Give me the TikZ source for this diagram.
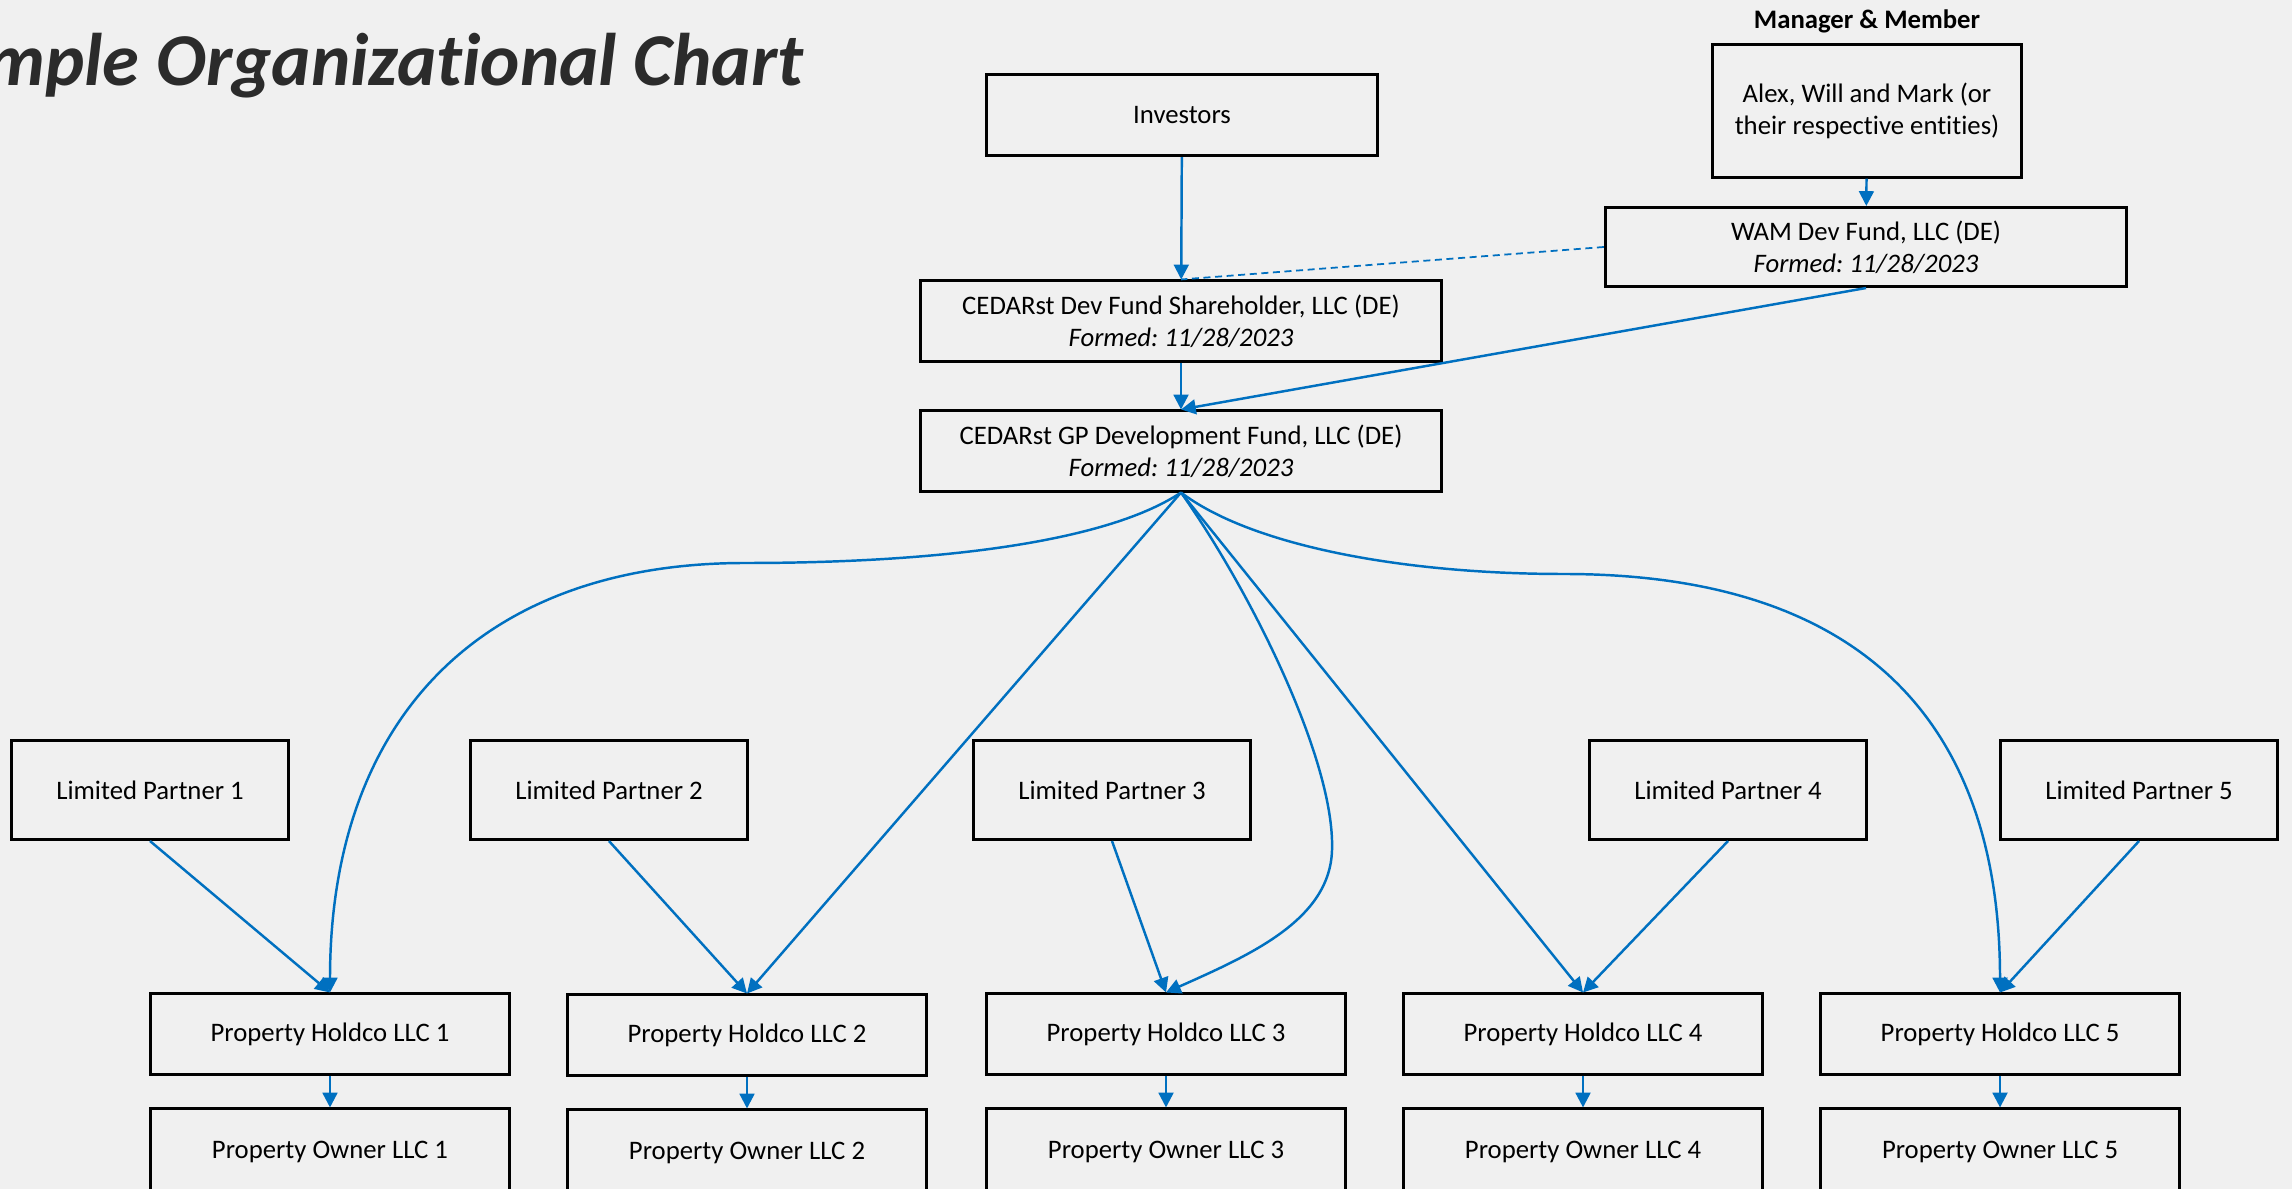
\documentclass[tikz,border=0pt]{standalone}
\usepackage{fontspec}
\setmainfont{Carlito}[Ligatures=NoCommon]
\usepackage{tikz}
\usetikzlibrary{arrows.meta}
\definecolor{bgcol}{RGB}{240,240,240}
\definecolor{linkblue}{RGB}{0,112,192}
\definecolor{titlegray}{RGB}{43,43,43}
\frenchspacing

\begin{document}
\begin{tikzpicture}[x=0.01cm, y=-0.01cm,
  box/.style={draw, line width=0.85pt, align=center, inner sep=0pt, font=\fontsize{7.6}{9.1}\selectfont},
  topbox/.style={box, minimum width=5.2cm, minimum height=0.8cm},
  lpbox/.style={box, minimum width=2.77cm, minimum height=0.99cm},
  hcbox/.style={box, minimum width=3.58cm, minimum height=0.8cm},
  owbox/.style={box, minimum width=3.58cm, minimum height=0.86cm},
  link/.style={linkblue, line width=0.7pt, -{Triangle[length=4.2pt,width=4.2pt]}},
]
    % 画布
    \useasboundingbox (0,0) rectangle (2292,1189);
    \clip (0,0) rectangle (2292,1189);
    \fill[bgcol] (0,0) rectangle (2292,1189);

    % 标题
    \node[anchor=base east, inner sep=0pt, titlegray, font=\fontsize{21.2}{24}\selectfont\bfseries\itshape] (title) at (804,86) {Sample Organizational Chart};
    \node[font=\fontsize{7.6}{9.1}\selectfont\bfseries] (mgrlabel) at (1867,21) {Manager \& Member};

    % 上层
    \node[box, minimum width=3.9cm, minimum height=0.81cm] (inv) at (1182,115) {Investors};
    \node[box, minimum width=3.09cm, minimum height=1.32cm] (alex) at (1867,111) {Alex, Will and Mark (or\\their respective entities)};
    \node[topbox, minimum width=5.21cm, minimum height=0.79cm] (wam) at (1866,247) {WAM Dev Fund, LLC (DE)\\\textit{Formed: 11/28/2023}};
    \node[topbox] (sh) at (1181,321) {CEDARst Dev Fund Shareholder, LLC (DE)\\\textit{Formed: 11/28/2023}};
    \node[topbox] (gp) at (1181,451) {CEDARst GP Development Fund, LLC (DE)\\\textit{Formed: 11/28/2023}};

    % 有限合伙人
    \node[lpbox] (lp1) at (150,790) {Limited Partner 1};
    \node[lpbox] (lp2) at (609,790) {Limited Partner 2};
    \node[lpbox] (lp3) at (1112,790) {Limited Partner 3};
    \node[lpbox] (lp4) at (1728,790) {Limited Partner 4};
    \node[lpbox] (lp5) at (2139,790) {Limited Partner 5};

    % Holdco / Owner
    \node[hcbox] (hc1) at (330,1034) {Property Holdco LLC 1};
    \node[hcbox] (hc2) at (747,1035) {Property Holdco LLC 2};
    \node[hcbox] (hc3) at (1166,1034) {Property Holdco LLC 3};
    \node[hcbox] (hc4) at (1583,1034) {Property Holdco LLC 4};
    \node[hcbox] (hc5) at (2000,1034) {Property Holdco LLC 5};
    \node[owbox] (ow1) at (330,1152) {Property Owner LLC 1};
    \node[owbox] (ow2) at (747,1153) {Property Owner LLC 2};
    \node[owbox] (ow3) at (1166,1152) {Property Owner LLC 3};
    \node[owbox] (ow4) at (1583,1152) {Property Owner LLC 4};
    \node[owbox] (ow5) at (2000,1152) {Property Owner LLC 5};

    % 上层连线
    \draw[link] (inv) -- (sh);
    \draw[link] (alex) -- (wam);
    \draw[linkblue, line width=0.5pt, dash pattern=on 2pt off 1.3pt] (wam.west) -- (sh.north);
    \draw[link] (sh) -- (gp);
    \draw[link] (wam.south) -- (gp.north);

    % GP 到各 Holdco
    \draw[link] (gp.south) .. controls (1110,540) and (950,563) .. (745,563)
                .. controls (480,563) and (330,720) .. (hc1.north);
    \draw[link] (gp.south) -- (hc2.north);
    \draw[link] (gp.south) .. controls (1250,590) and (1335,760) .. (1332,850)
                .. controls (1330,920) and (1250,955) .. (hc3.north);
    \draw[link] (gp.south) -- (hc4.north);
    \draw[link] (gp.south) .. controls (1250,545) and (1400,574) .. (1564,574)
                .. controls (1880,574) and (2000,740) .. (hc5.north);

    % LP 到 Holdco
    \draw[link] (lp1.south) -- (hc1.north);
    \draw[link] (lp2.south) -- (hc2.north);
    \draw[link] (lp3.south) -- (hc3.north);
    \draw[link] (lp4.south) -- (hc4.north);
    \draw[link] (lp5.south) -- (hc5.north);

    % Holdco 到 Owner
    \draw[link] (hc1) -- (ow1);
    \draw[link] (hc2) -- (ow2);
    \draw[link] (hc3) -- (ow3);
    \draw[link] (hc4) -- (ow4);
    \draw[link] (hc5) -- (ow5);
\end{tikzpicture}
\end{document}
